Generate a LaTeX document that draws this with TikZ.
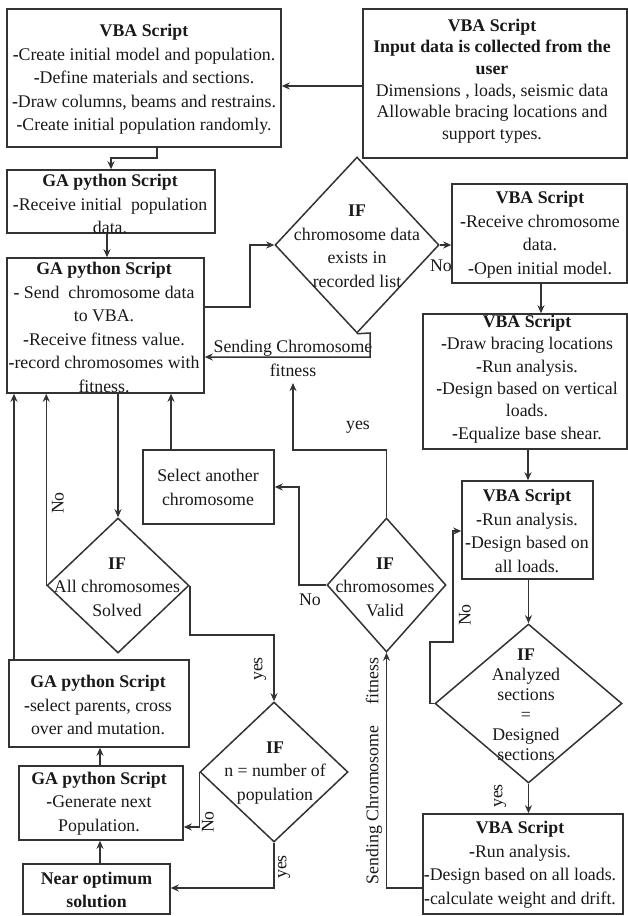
\documentclass[tikz,border=0pt]{standalone}
\usepackage{fontspec}
\setmainfont{Liberation Serif}
\usetikzlibrary{shapes.geometric,arrows.meta,fit}
\newcommand\fsz{\fontsize{17.8}{23.5}\selectfont}
\newcommand\bd{\textbf{-}}
\begin{document}
\begin{tikzpicture}[x=1pt,y=-1pt,
  every node/.style={font=\fsz, text=black!90},
  boxst/.style={draw=black!80, line width=1.5pt, inner sep=0pt},
  dia/.style={diamond, draw=black!80, line width=1.5pt, inner sep=0pt, aspect=1},
  txt/.style={align=center, inner sep=0pt},
  lbl/.style={inner sep=0pt, align=center},
  arr/.style={draw=black!80, line width=1.5pt, -{Stealth[length=8pt,width=7pt,inset=2.5pt]}}
]
\useasboundingbox (0,0) rectangle (628,916);

% ---------- boxes ----------
\node[boxst, fit={(7,9) (281,147)}] (b1) {};
\node[boxst, fit={(363,9) (627,158)}] (b2) {};
\node[boxst, fit={(7,170) (215,233)}] (b3) {};
\node[boxst, fit={(7,258) (204,393)}] (b4) {};
\node[boxst, fit={(452,184) (627,283)}] (b5) {};
\node[boxst, fit={(423,314) (627,449)}] (b6) {};
\node[boxst, fit={(462,481) (593,579)}] (b7) {};
\node[boxst, fit={(423,814) (623,914)}] (b8) {};
\node[boxst, fit={(143,450) (274,524)}] (sel) {};
\node[boxst, fit={(9,660) (189,747)}] (sp) {};
\node[boxst, fit={(19,766) (183,840)}] (gn) {};
\node[boxst, fit={(23,864) (170,914)}] (no) {};

% ---------- diamonds ----------
\node[dia, minimum width=164pt, minimum height=176pt] (d1) at (357,245) {};
\node[dia, minimum width=142pt, minimum height=135pt] (d2) at (118,585.5) {};
\node[dia, minimum width=119pt, minimum height=134pt] (d3) at (386.5,585) {};
\node[dia, minimum width=148pt, minimum height=140pt] (d4) at (274,772) {};
\node[dia, minimum width=187pt, minimum height=159pt] (d5) at (528.5,703.5) {};

% ---------- texts ----------
\node[txt] (t1) at (144,79.4) {\textbf{VBA Script}\\\bd Create initial model and population.\\\bd Define materials and sections.\\\bd Draw columns, beams and restrains.\\\bd Create initial population randomly.};
\node[txt, font=\fontsize{17.8}{21.6}\selectfont] (t2) at (492,81) {\textbf{VBA Script}\\\textbf{Input data is collected from the}\\\textbf{user}\\Dimensions , loads, seismic data\\Allowable bracing locations and\\support types.};
\node[txt] (t3) at (110,204) {\textbf{GA python Script}\\\bd Receive initial\ \ population\\data.};
\node[txt] (t4) at (104,327.3) {\textbf{GA python Script}\\\bd\ Send\ \ chromosome data\\to VBA.\\\bd Receive fitness value.\\\bd record chromosomes with\\fitness.};
\node[txt] (t5) at (540,234.5) {\textbf{VBA Script}\\\bd Receive chromosome\\data.\\\bd Open initial model.};
\node[txt, font=\fontsize{17.8}{22.4}\selectfont] (t6) at (527,379) {\textbf{VBA Script}\\\bd Draw bracing locations\\\bd Run analysis.\\\bd Design based on vertical\\loads.\\\bd Equalize base shear.};
\node[txt] (t7) at (527,531) {\textbf{VBA Script}\\\bd Run analysis.\\\bd Design based on\\all loads.};
\node[txt] (t8) at (520,864.5) {\textbf{VBA Script}\\\bd Run analysis.\\\bd Design based on all loads.\\\bd calculate weight and drift.};
\node[txt] (tsel) at (208,487.5) {Select another\\chromosome};
\node[txt] (tsp) at (98,705) {\textbf{GA python Script}\\\bd select parents, cross\\over and mutation.};
\node[txt] (tgn) at (99,803.3) {\textbf{GA python Script}\\\bd Generate next\\Population.};
\node[txt] (tno) at (96.5,890) {\textbf{Near optimum}\\\textbf{solution}};

\node[txt] (td1) at (357,246.5) {\textbf{IF}\\chromosome data\\exists in\\recorded list};
\node[txt] (td2) at (117,587) {\textbf{IF}\\All chromosomes\\Solved};
\node[txt] (td3) at (385,587) {\textbf{IF}\\chromosomes\\Valid};
\node[txt] (td4) at (275,773) {\textbf{IF}\\n = number of\\population};
\node[txt, font=\fontsize{17.8}{20}\selectfont] (td5) at (526,705) {\textbf{IF}\\Analyzed\\sections\\=\\Designed\\sections};

% ---------- labels ----------
\node[lbl] (l1) at (441,266) {No};
\node[lbl] (l2) at (293,358.5) {Sending Chromosome\\fitness};
\node[lbl] (l3) at (358,427) {yes};
\node[lbl] (l4) at (310,600) {No};
\node[lbl, rotate=90] (l5) at (58,503) {No};
\node[lbl, rotate=90] (l6) at (260,669) {yes};
\node[lbl, rotate=90] (l7) at (208,822) {No};
\node[lbl, rotate=90] (l8) at (284,867) {yes};
\node[lbl, rotate=90] (l9) at (465,615) {No};
\node[lbl, rotate=90] (l10) at (500,796) {yes};
\node[lbl, rotate=90] (l11) at (374,771) {Sending Chromosome\hspace{1.2em}fitness};

% ---------- connectors ----------
\coordinate (yesend) at (293,383);
\draw[arr] (b2.west |- 0,86) -- (b1.east |- 0,86);
\draw[arr] (b1.south -| 157,0) -- (157,158) -- (111,158) -- (b3.north -| 111,0);
\draw[arr] (b3.south -| 107,0) -- (b4.north -| 107,0);
\draw[arr] (b4.east |- 0,307) -- (250,307) -- (250,245) -- (d1.west);
\draw[arr] (d1.east) -- (b5.west |- d1.east);
\draw[arr] (b5.south -| 541,0) -- (b6.north -| 541,0);
\draw[arr] (d1.south) -- (370,333) -- (370,357) -- (b4.east |- 0,357);
\draw[arr] (b6.south -| 528,0) -- (b7.north -| 528,0);
\draw[arr] (b7.south -| d5.north) -- (d5.north);
\draw[arr] (d5.west) -- (430,703.5) -- (430,642) -- (453,642) -- (453,531) -- (b7.west |- 0,531);
\draw[arr] (d5.south) -- (b8.north -| d5.south);
\draw[arr] (b8.west |- 0,888) -- (d3.south |- 0,888) -- (d3.south);
\draw[arr] (d3.north) -- (d3.north |- 0,450) -- (293,450) -- (yesend);
\draw[arr] (d3.west) -- (299,585) -- (299,487) -- (sel.east |- 0,487);
\draw[arr] (sel.north -| 171,0) -- (b4.south -| 171,0);
\draw[arr] (b4.south -| d2.north) -- (d2.north);
\draw[arr] (d2.west) -- (b4.south -| d2.west);
\draw[arr] (d2.east) -- (d2.east |- 0,635) -- (d4.north |- 0,635) -- (d4.north);
\draw[arr] (d4.west) -- (d4.west |- 0,827) -- (gn.east |- 0,827);
\draw[arr] (d4.south) -- (d4.south |- 0,888) -- (no.east |- 0,888);
\draw[arr] (no.north -| 100,0) -- (gn.south -| 100,0);
\draw[arr] (gn.north -| 100,0) -- (sp.south -| 100,0);
\draw[arr] (sp.north -| 14,0) -- (b4.south -| 14,0);
\end{tikzpicture}
\end{document}
